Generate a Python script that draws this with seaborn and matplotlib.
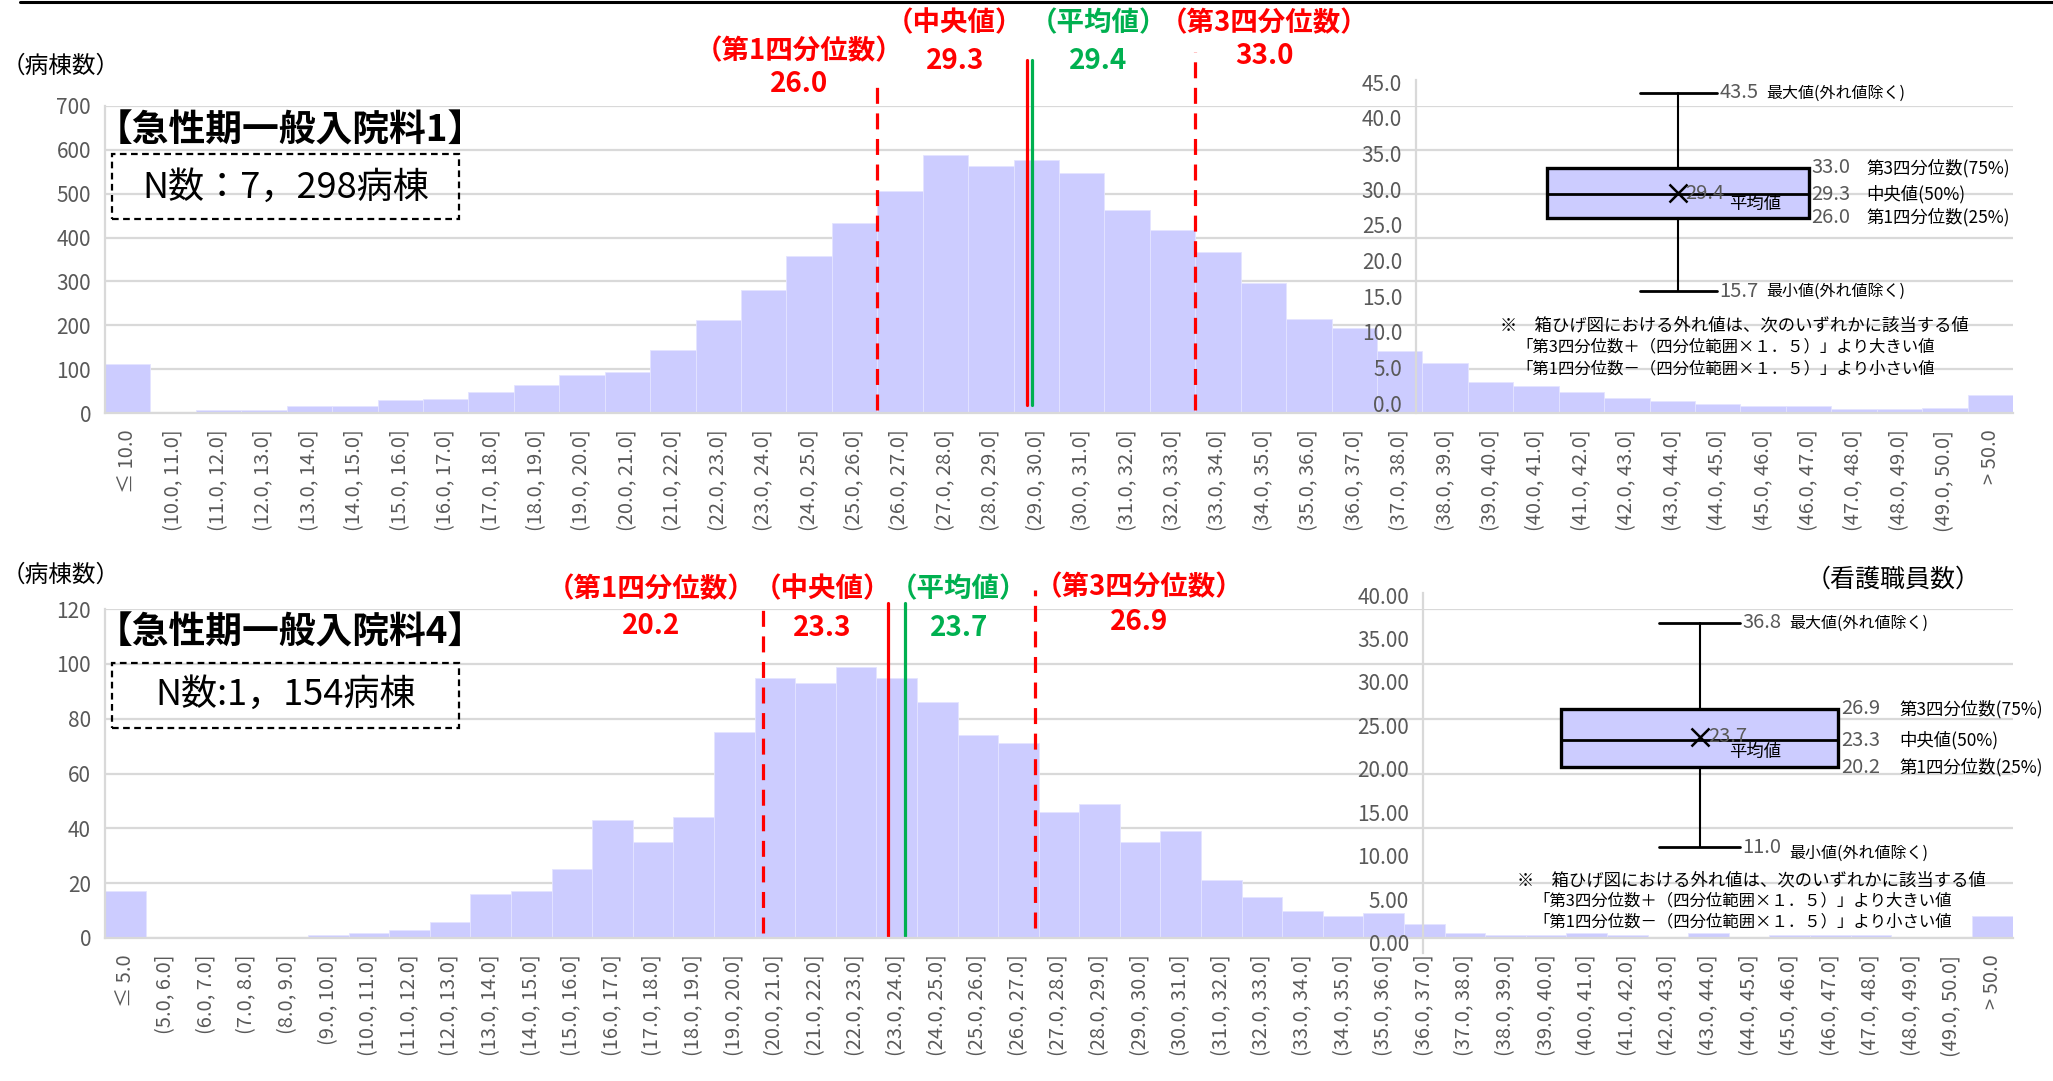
import pandas as pd
import seaborn as sns
import matplotlib.pyplot as plt
from matplotlib.patches import Rectangle

# 急性期一般入院料1 : 看護職員数の分布（病棟数）
cnt1 = [112, 1, 7, 7, 15, 17, 29, 33, 47, 64, 87, 94, 144, 211, 280, 358, 434,
        506, 588, 564, 576, 547, 462, 418, 366, 296, 215, 194, 142, 115, 71, 62,
        47, 34, 28, 20, 17, 17, 8, 8, 12, 41]
lab1 = ["≤ 10.0"] + [f"({a:.1f}, {a + 1:.1f}]" for a in range(10, 50)] + ["> 50.0"]
box1 = dict(whislo=15.7, q1=26.0, med=29.3, mean=29.4, q3=33.0, whishi=43.5)

# 急性期一般入院料4
cnt4 = [17, 0, 0, 0, 0, 1, 2, 3, 6, 16, 17, 25, 43, 35, 44, 75, 95, 93, 99, 95,
        86, 74, 71, 46, 49, 35, 39, 21, 15, 10, 8, 9, 5, 2, 1, 1, 2, 1, 0, 2, 0,
        1, 1, 1, 0, 0, 8]
lab4 = ["≤ 5.0"] + [f"({a:.1f}, {a + 1:.1f}]" for a in range(5, 50)] + ["> 50.0"]
box4 = dict(whislo=11.0, q1=20.2, med=23.3, mean=23.7, q3=26.9, whishi=36.8)

W, H = 2053, 1081
BAR = "#CCCCFF"
GRID = "#D9D9D9"
GRAY = "#595959"
RED = "#FF0000"
GREEN = "#00B050"

sns.set_theme(style="white")
plt.rcParams["font.family"] = ["Noto Sans CJK JP", "DejaVu Sans"]

fig = plt.figure(figsize=(W / 100, H / 100), dpi=100)


def px(x0, y0, x1, y1):
    # figure rect from pixel box (top-left origin)
    return [x0 / W, 1 - y1 / H, (x1 - x0) / W, (y1 - y0) / H]


def ftext(x, y, s, **kw):
    kw.setdefault("va", "center")
    fig.text(x / W, 1 - y / H, s, **kw)


def hist(rect, labels, counts, ymax, ystep):
    ax = fig.add_axes(rect)
    df = pd.DataFrame({"bin": labels, "n": counts})
    sns.barplot(data=df, x="bin", y="n", order=labels, color=BAR, saturation=1,
                width=1, edgecolor="#E4E4FF", linewidth=0.6, ax=ax)
    ax.set_ylim(0, ymax)
    ax.set_xlim(-0.5, len(labels) - 0.5)
    ax.set_yticks(range(0, ymax + 1, ystep))
    ax.yaxis.grid(True, color=GRID, lw=1.6)
    ax.set_axisbelow(True)
    ax.set_xlabel("")
    ax.set_ylabel("")
    for s in ["top", "right"]:
        ax.spines[s].set_visible(False)
    for s in ["left", "bottom"]:
        ax.spines[s].set_color(GRID)
        ax.spines[s].set_linewidth(1.6)
    ax.tick_params(axis="y", length=0, pad=10, labelsize=15, labelcolor=GRAY)
    ax.tick_params(axis="x", length=0, pad=12, labelsize=14.5, labelcolor=GRAY,
                   labelrotation=90)
    return ax


def vline(ax, x, y0, y1, color, dashed):
    ax.plot([x, x], [y0, y1], transform=ax.get_xaxis_transform(), clip_on=False,
            color=color, lw=2.3, dashes=(5, 3) if dashed else (None, None))


def inset(rect, ylim, ticks, fmt, stats, cx, bw, cw):
    ai = fig.add_axes(rect)
    ai.patch.set_alpha(0)
    ai.bxp([dict(stats, fliers=[])], positions=[cx], widths=bw, capwidths=cw,
           showmeans=True, showfliers=False, patch_artist=True, manage_ticks=False,
           boxprops=dict(facecolor=BAR, edgecolor="black", linewidth=2.4),
           medianprops=dict(color="black", linewidth=2),
           whiskerprops=dict(color="black", linewidth=1.5),
           capprops=dict(color="black", linewidth=2),
           meanprops=dict(marker="x", markeredgecolor="black", markersize=13,
                          markeredgewidth=1.8))
    ai.set_xlim(0, 1)
    ai.set_ylim(*ylim)
    ai.set_yticks(ticks)
    ai.set_yticklabels([fmt.format(t) for t in ticks])
    ai.set_xticks([])
    for s in ["top", "right", "bottom"]:
        ai.spines[s].set_visible(False)
    ai.spines["left"].set_color(GRID)
    ai.spines["left"].set_linewidth(1.6)
    ai.tick_params(axis="y", length=0, pad=10, labelsize=15, labelcolor=GRAY)
    return ai


def box_labels(ai, stats, xn_w, xd_w, xn_q, xd_q, xmean, xavg, avg_dy, min_dy):
    tr = ai.get_yaxis_transform()
    kn = dict(transform=tr, va="center", fontsize=14.5, color=GRAY)
    kd = dict(transform=tr, va="center", fontsize=11.5, color="black")
    kq = dict(kd, fontsize=12.5)
    ai.text(xn_w, stats["whishi"], f"{stats['whishi']:.1f}", **kn)
    ai.text(xd_w, stats["whishi"], "最大値(外れ値除く)", **kd)
    ai.text(xn_w, stats["whislo"], f"{stats['whislo']:.1f}", **kn)
    ai.text(xd_w, stats["whislo"] + min_dy, "最小値(外れ値除く)", **kd)
    for key, name in [("q3", "第3四分位数(75%)"), ("med", "中央値(50%)"),
                      ("q1", "第1四分位数(25%)")]:
        ai.text(xn_q, stats[key], f"{stats[key]:.1f}", **kn)
        ai.text(xd_q, stats[key], name, **kq)
    ai.text(xmean, stats["mean"], f"{stats['mean']:.1f}", **kn)
    ai.text(xavg, stats["mean"] + avg_dy, "平均値", **kq)


def notes(x, y, dy):
    ftext(x, y, "※　箱ひげ図における外れ値は、次のいずれかに該当する値", fontsize=12.5,
          color="black")
    k = dict(fontsize=11.8, color="black")
    ftext(x + 16, y + dy, "「第3四分位数＋（四分位範囲×１．５）」より大きい値", **k)
    ftext(x + 16, y + 2 * dy, "「第1四分位数－（四分位範囲×１．５）」より小さい値", **k)


def stat_heads(items):
    for x, y, head, yv, val, col in items:
        ftext(x, y, head, ha="center", fontsize=19.8, fontweight="bold", color=col)
        ftext(x, yv, val, ha="center", fontsize=20, fontweight="bold", color=col)


def nbox(y0, y1, text, ty):
    fig.patches.append(Rectangle((112 / W, 1 - y1 / H), 347 / W, (y1 - y0) / H,
                                 fill=False, ls=(0, (3, 2)), lw=1.6, ec="black",
                                 transform=fig.transFigure, figure=fig))
    ftext(286, ty, text, ha="center", fontsize=26, color="black")


# ---------------- 上段：急性期一般入院料1 ----------------
ax1 = hist(px(105, 106, 2013, 413), lab1, cnt1, 700, 100)
lo1 = 10
vline(ax1, box1["q1"] - lo1 + 0.5, 0.01, 1.075, RED, True)
vline(ax1, box1["med"] - lo1 + 0.5, 0.025, 1.15, RED, False)
vline(ax1, box1["mean"] - lo1 + 0.5, 0.025, 1.15, GREEN, False)
vline(ax1, box1["q3"] - lo1 + 0.5, 0.01, 1.175, RED, True)

ftext(2, 66, "（病棟数）", fontsize=17, color="black")
ftext(96, 131, "【急性期一般入院料1】", fontsize=26.5, fontweight="bold", color="black")
nbox(154, 219, "N数：7，298病棟", 188)
stat_heads([
    (799, 51, "（第1四分位数）", 84, f"{box1['q1']:.1f}", RED),
    (955, 23, "（中央値）", 61, f"{box1['med']:.1f}", RED),
    (1098, 23, "（平均値）", 61, f"{box1['mean']:.1f}", GREEN),
    (1264, 23, "（第3四分位数）", 56, f"{box1['q3']:.1f}", RED),
])

ai1 = inset(px(1416, 80, 2013, 413), (-1.4, 45.3), [0, 5, 10, 15, 20, 25, 30, 35, 40, 45],
            "{:.1f}", box1, 0.439, 0.439, 0.129)
box_labels(ai1, box1, 0.508, 0.586, 0.662, 0.754, 0.451, 0.524, -1.5, 0)
notes(1500, 325, 22)

# ---------------- 下段：急性期一般入院料4 ----------------
ax4 = hist(px(105, 609, 2013, 938), lab4, cnt4, 120, 20)
lo4 = 5
vline(ax4, box4["q1"] - lo4 + 0.5, 0.015, 1.006, RED, True)
vline(ax4, box4["med"] - lo4 + 0.5, 0.006, 1.018, RED, False)
vline(ax4, box4["mean"] - lo4 + 0.5, 0.006, 1.018, GREEN, False)
vline(ax4, box4["q3"] - lo4 + 0.5, 0.03, 1.058, RED, True)

ftext(2, 575, "（病棟数）", fontsize=17, color="black")
ftext(96, 633, "【急性期一般入院料4】", fontsize=26.5, fontweight="bold", color="black")
nbox(663, 728, "N数:1，154病棟", 695)
stat_heads([
    (651, 589, "（第1四分位数）", 626, f"{box4['q1']:.1f}", RED),
    (822, 589, "（中央値）", 628, f"{box4['med']:.1f}", RED),
    (959, 589, "（平均値）", 628, f"{box4['mean']:.1f}", GREEN),
    (1139, 587, "（第3四分位数）", 622, f"{box4['q3']:.1f}", RED),
])
ftext(1806, 580, "（看護職員数）", fontsize=18, color="black")

ai4 = inset(px(1423, 593, 2013, 953), (-1.15, 40.23), [0, 5, 10, 15, 20, 25, 30, 35, 40],
            "{:.2f}", box4, 0.469, 0.469, 0.137)
box_labels(ai4, box4, 0.541, 0.620, 0.708, 0.807, 0.483, 0.519, -1.8, -0.7)
notes(1517, 880, 21)

# 上端の罫線
fig.add_artist(plt.Line2D([20 / W, 1], [1 - 1.5 / H, 1 - 1.5 / H], color="black", lw=2.2))

fig.savefig("out.png", dpi=100)
